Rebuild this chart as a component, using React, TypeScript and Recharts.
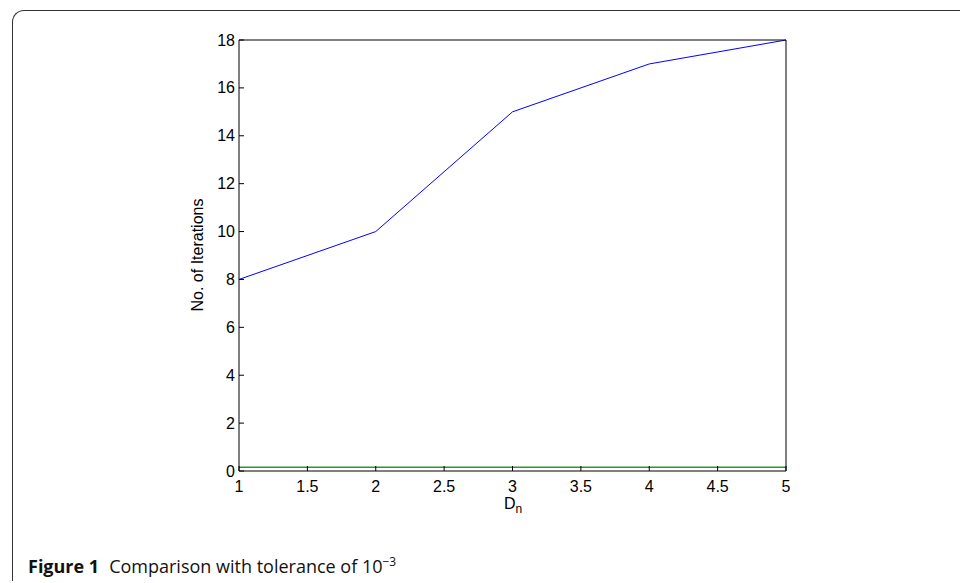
import { LineChart, Line, XAxis, YAxis } from 'recharts'

const dn = [1, 2, 3, 4, 5]
const iterationsA = [8, 10, 15, 17, 18]
const iterationsB = [0.16, 0.16, 0.16, 0.16, 0.16]
const xTicks = [1, 1.5, 2, 2.5, 3, 3.5, 4, 4.5, 5]
const yTicks = [0, 2, 4, 6, 8, 10, 12, 14, 16, 18]

const data = dn.map((d, i) => ({ dn: d, a: iterationsA[i], b: iterationsB[i] }))

const font = 'Liberation Sans, Arial, sans-serif'

const XTick = (props: any) => {
  const { x, y, payload } = props
  return (
    <text x={x} y={y} dy={11.5} textAnchor="middle" fontFamily={font} fontSize={16} fill="#000">
      {payload.value}
    </text>
  )
}

const YTick = (props: any) => {
  const { x, y, payload } = props
  return (
    <text x={x} y={y} dy={5.5} textAnchor="end" fontFamily={font} fontSize={16} fill="#000">
      {payload.value}
    </text>
  )
}

export default function App() {
  return (
    <div style={{ position: 'absolute', left: 0, top: 0, width: 960, height: 583, background: '#fff', overflow: 'hidden' }}>
      <div
        style={{
          position: 'absolute',
          left: 12,
          top: 10,
          width: 980,
          height: 570,
          borderTop: '1.5px solid #333',
          borderLeft: '1.5px solid #333',
          borderTopLeftRadius: 12,
        }}
      />
      <div style={{ position: 'absolute', left: 0, top: 0 }}>
        <LineChart width={960} height={583} data={data} margin={{ top: 35, right: 169, left: 199, bottom: 82 }}>
          <XAxis
            dataKey="dn"
            type="number"
            domain={[1, 5]}
            ticks={xTicks}
            tickSize={-5}
            tickMargin={14}
            stroke="#000"
            tick={<XTick />}
            height={30}
            interval={0}
          />
          <XAxis
            xAxisId="top"
            orientation="top"
            dataKey="dn"
            type="number"
            domain={[1, 5]}
            ticks={xTicks}
            tickSize={-5}
            tick={false}
            stroke="#000"
            height={5}
            interval={0}
          />
          <YAxis
            type="number"
            domain={[0, 18]}
            ticks={yTicks}
            tickSize={-5}
            tickMargin={9}
            stroke="#000"
            tick={<YTick />}
            width={40}
            interval={0}
          />
          <YAxis
            yAxisId="right"
            orientation="right"
            type="number"
            domain={[0, 18]}
            ticks={yTicks}
            tickSize={-5}
            tick={false}
            stroke="#000"
            width={5}
            interval={0}
          />
          <Line dataKey="a" stroke="#0000ff" strokeWidth={1} dot={false} isAnimationActive={false} />
          <Line dataKey="b" stroke="#2e962e" strokeWidth={1.5} dot={false} isAnimationActive={false} />
          <Line
            xAxisId="top"
            yAxisId="right"
            dataKey="a"
            stroke="none"
            dot={false}
            activeDot={false}
            isAnimationActive={false}
          />
        </LineChart>
      </div>
      <div
        style={{
          position: 'absolute',
          left: 198,
          top: 255,
          transform: 'translate(-50%, -50%) rotate(-90deg)',
          fontFamily: font,
          fontSize: 16,
          whiteSpace: 'nowrap',
        }}
      >
        No. of Iterations
      </div>
      <div
        style={{
          position: 'absolute',
          left: 504,
          top: 495,
          fontFamily: font,
          fontSize: 16,
          lineHeight: 'normal',
          whiteSpace: 'nowrap',
        }}
      >
        D<sub style={{ fontSize: 12 }}>n</sub>
      </div>
      <div
        style={{
          position: 'absolute',
          left: 28,
          top: 553,
          fontFamily: 'Open Sans, Noto Sans, sans-serif',
          fontSize: 18,
          whiteSpace: 'nowrap',
          color: '#111',
        }}
      >
        <b>Figure 1</b>
        <span style={{ marginLeft: 10 }}>Comparison with tolerance of 10</span>
        <sup style={{ fontSize: 12 }}>−3</sup>
      </div>
    </div>
  )
}
